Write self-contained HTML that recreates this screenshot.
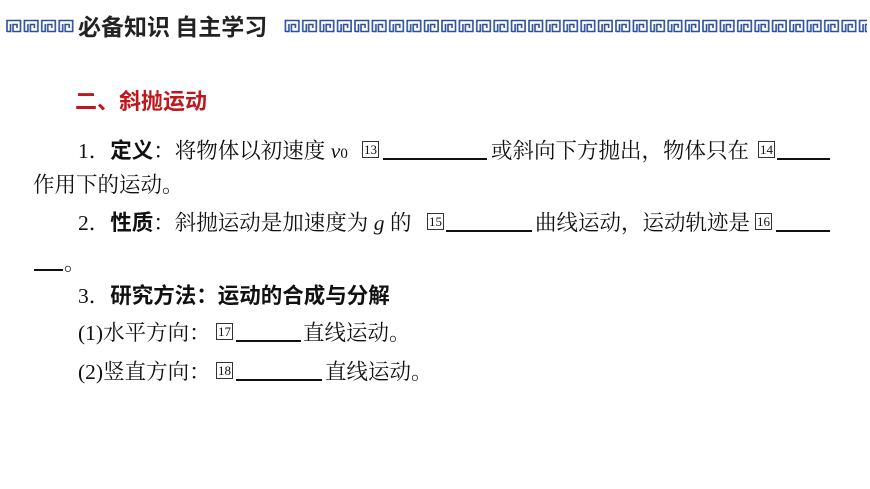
<!DOCTYPE html>
<html><head><meta charset="utf-8"><style>
body{margin:0;width:870px;height:489px;background:#fff;position:relative;overflow:hidden}
.t{position:absolute;line-height:24px;height:24px;white-space:nowrap;font-family:"Noto Serif CJK SC","Liberation Serif",serif;font-size:21.5px;color:#111}
.b{font-family:"Noto Sans CJK SC","Liberation Sans",sans-serif;font-weight:bold}
.l{font-family:"Liberation Serif",serif}
.u{position:absolute;height:2px;background:#111}
.bx{position:absolute;border:1px solid #333;width:15px;height:15px;font:13px "Liberation Serif",serif;line-height:15px;text-align:center;color:#111}
</style></head><body>
<svg width="870" height="40" style="position:absolute;left:0;top:0">
<defs><pattern id="k" x="5" y="19" width="17.4" height="14" patternUnits="userSpaceOnUse">
<path d="M2 13 V1.5 H15.5 V12.5 H8 V5.5 H12 V9" fill="none" stroke="#2a4f9c" stroke-width="1.6"/>
<path d="M2 12.5 H5.5 V5" fill="none" stroke="#2a4f9c" stroke-width="1.6"/>
</pattern></defs>
<rect x="5" y="19" width="70" height="14" fill="url(#k)"/>
<rect x="283" y="19" width="584" height="14" fill="url(#k)"/>
</svg>
<div class="t b" style="left:78px;top:13px;font-size:23px;color:#222">必备知识 自主学习</div>
<div class="t b" style="left:75px;top:88px;font-size:22px;color:#c0171d">二、斜抛运动</div>

<div class="t" style="left:78px;top:138px"><span class="l">1</span>．<span class="b">定义</span>：将物体以初速度 <i class="l">v</i><span class="l" style="font-size:15px">0</span></div>
<div class="bx" style="left:362px;top:141px">13</div>
<div class="u" style="left:383px;top:158px;width:104px"></div>
<div class="t" style="left:491px;top:138px">或斜向下方抛出，物体只在</div>
<div class="bx" style="left:758px;top:141px">14</div>
<div class="u" style="left:777px;top:158px;width:53px"></div>
<div class="t" style="left:33px;top:172px">作用下的运动。</div>

<div class="t" style="left:78px;top:210px"><span class="l">2</span>．<span class="b">性质</span>：斜抛运动是加速度为 <i class="l">g</i> 的</div>
<div class="bx" style="left:427px;top:213px">15</div>
<div class="u" style="left:446px;top:230px;width:86px"></div>
<div class="t" style="left:535px;top:210px">曲线运动，运动轨迹是</div>
<div class="bx" style="left:755px;top:213px">16</div>
<div class="u" style="left:776px;top:230px;width:54px"></div>
<div class="u" style="left:34px;top:269px;width:29px"></div>
<div class="t" style="left:64px;top:250px">。</div>

<div class="t" style="left:78px;top:283px"><span class="l">3</span>．<span class="b">研究方法：运动的合成与分解</span></div>
<div class="t" style="left:78px;top:320px"><span class="l">(1)</span>水平方向：</div>
<div class="bx" style="left:216px;top:323px">17</div>
<div class="u" style="left:236px;top:340px;width:65px"></div>
<div class="t" style="left:303px;top:320px">直线运动。</div>
<div class="t" style="left:78px;top:359px"><span class="l">(2)</span>竖直方向：</div>
<div class="bx" style="left:216px;top:362px">18</div>
<div class="u" style="left:236px;top:379px;width:86px"></div>
<div class="t" style="left:325px;top:359px">直线运动。</div>
</body></html>
